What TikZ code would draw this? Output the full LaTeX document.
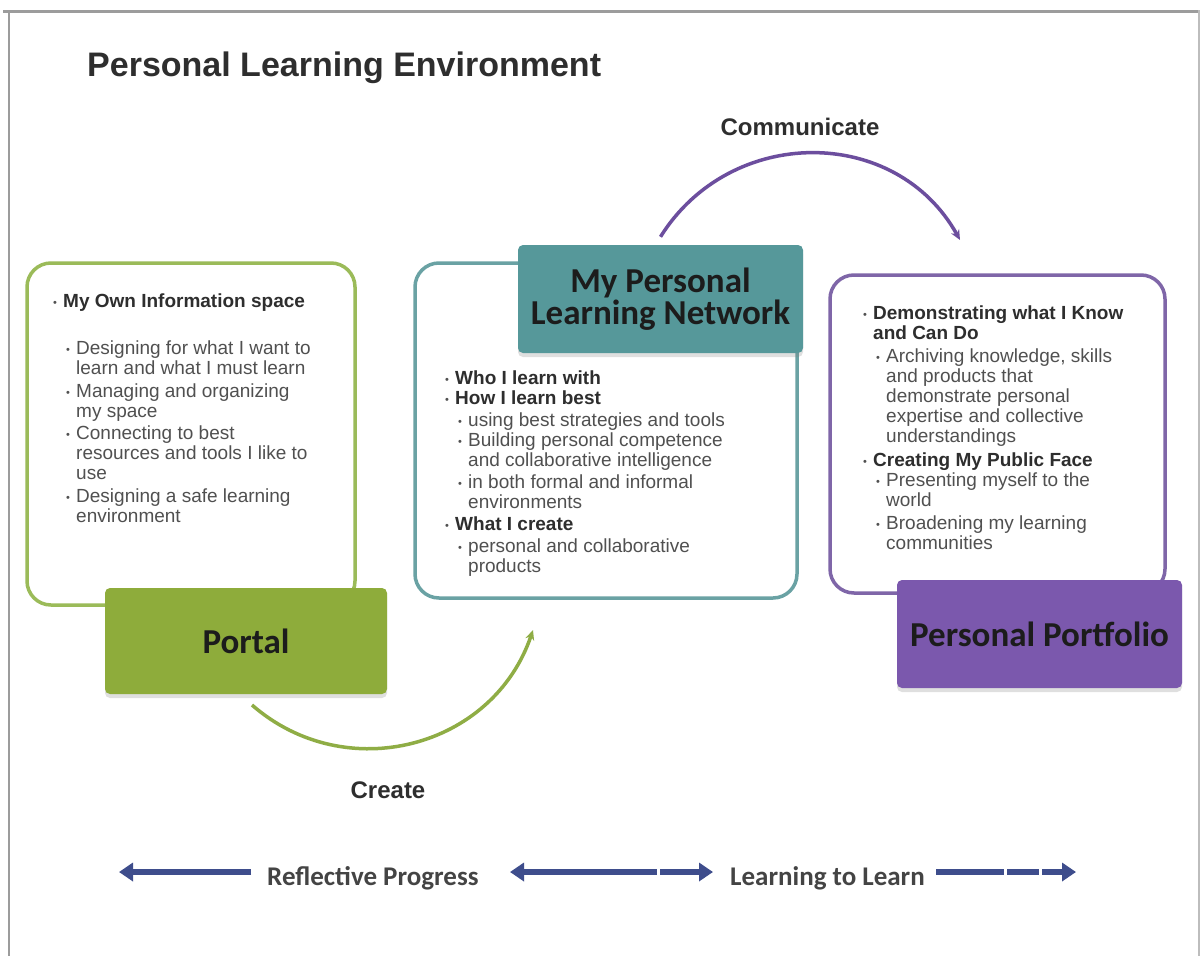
\documentclass[tikz,border=0pt]{standalone}
\usepackage{fontspec}
\setmainfont{Liberation Sans}
\newfontfamily\calfont{Carlito}
\usetikzlibrary{arrows.meta,shadows}

\definecolor{frameGray}{HTML}{9C9C9C}
\definecolor{frameLight}{HTML}{BDBDBD}
\definecolor{greenLine}{HTML}{9BBB59}
\definecolor{greenFill}{HTML}{8EAC3B}
\definecolor{tealLine}{HTML}{6AA2A4}
\definecolor{tealFill}{HTML}{56989A}
\definecolor{purpleLine}{HTML}{7F66A8}
\definecolor{purpleFill}{HTML}{7B58AD}
\definecolor{arcPurple}{HTML}{6C4E9E}
\definecolor{arcGreen}{HTML}{8FAD45}
\definecolor{navyArrow}{HTML}{3E4D8C}
\definecolor{bodyText}{HTML}{505050}
\definecolor{boldText}{HTML}{2E2E2E}
\definecolor{titleText}{HTML}{1C1C1C}
\definecolor{labelText}{HTML}{444444}

% bullet list helpers
\newcommand\bul{{\fontsize{11}{11}\selectfont\raisebox{1.2pt}{•}}}
\newcommand\lvA[1]{\makebox[10pt][l]{\bul}{\bfseries\color{boldText}#1}}
\newcommand\lvAc[1]{\hspace*{10pt}{\bfseries\color{boldText}#1}}
\newcommand\lvB[1]{\hspace*{13pt}\makebox[10pt][l]{\bul}#1}
\newcommand\lvBc[1]{\hspace*{23pt}#1}
\newcommand\tightlines[1]{\lineskiplimit=#1}

\begin{document}
\begin{tikzpicture}[x=1pt,y=-1pt,
  frameline/.style={line width=#1},
  infobox/.style={draw, line width=3.5pt, fill=white, inner sep=0pt, rounded corners=24pt},
  titlebox/.style={inner sep=0pt, rounded corners=5pt,
    drop shadow={opacity=0.25, shadow xshift=0pt, shadow yshift=-4pt},
    align=center, text=titleText,
    font={\calfont\bfseries\fontsize{35}{32}\selectfont\tightlines{-30pt}}},
  bullettext/.style={anchor=north west, inner sep=0pt, align=left, text=bodyText,
    font={\fontsize{19}{20}\selectfont\tightlines{-10pt}}},
  cyclearc/.style={line width=3.5pt, -{Stealth[length=10pt,width=9pt]}},
  flowarrow/.style={draw=navyArrow, line width=6.5pt},
  heading/.style={inner sep=0pt, text=boldText, font={\bfseries\fontsize{24}{28}\selectfont}},
  flowlabel/.style={inner sep=0pt, anchor=base west, text=labelText,
    font={\calfont\bfseries\fontsize{27}{30}\selectfont}}
]
\useasboundingbox (0,0) rectangle (1202,956);
\fill[white] (0,0) rectangle (1202,956);

% page frame
\draw[frameGray, frameline=3pt] (3,11) -- (1200,11);
\draw[frameGray, frameline=2pt] (9,10) -- (9,956);
\draw[frameLight, frameline=2pt] (1199,10) -- (1199,956);

% title
\node[inner sep=0pt, anchor=base west, text=boldText,
      font={\bfseries\fontsize{34}{38}\selectfont}] (title) at (87,76)
  {Personal Learning Environment};

% outline boxes
\node[infobox, draw=greenLine, minimum width=328pt, minimum height=342pt] (portalinfo) at (191,434) {};
\node[infobox, draw=tealLine, minimum width=382pt, minimum height=335pt] (networkinfo) at (606,430.5) {};
\node[infobox, draw=purpleLine, minimum width=335pt, minimum height=318pt] (portfolioinfo) at (997.5,434) {};

% filled title boxes
\node[titlebox, fill=greenFill, minimum width=282pt, minimum height=106pt] (portal) at (246,641) {Portal};
\node[titlebox, fill=tealFill, minimum width=285pt, minimum height=108pt] (network) at (660.5,299)
  {My Personal\\Learning Network};
\node[titlebox, fill=purpleFill, minimum width=285pt, minimum height=108pt] (portfolio) at (1039.5,634)
  {Personal Portfolio};

% box contents
\node[bullettext] (portaltext) at (53,294) {%
  \lvA{My Own Information space}\\[27pt]
  \lvB{Designing for what I want to}\\
  \lvBc{learn and what I must learn}\\[2.5pt]
  \lvB{Managing and organizing}\\
  \lvBc{my space}\\[2.5pt]
  \lvB{Connecting to best}\\
  \lvBc{resources and tools I like to}\\
  \lvBc{use}\\[2.5pt]
  \lvB{Designing a safe learning}\\
  \lvBc{environment}};

\node[bullettext] (networktext) at (445,371) {%
  \lvA{Who I learn with}\\
  \lvA{How I learn best}\\[2pt]
  \lvB{using best strategies and tools}\\
  \lvB{Building personal competence}\\
  \lvBc{and collaborative intelligence}\\[2pt]
  \lvB{in both formal and informal}\\
  \lvBc{environments}\\[2pt]
  \lvA{What I create}\\[2pt]
  \lvB{personal and collaborative}\\
  \lvBc{products}};

\node[bullettext] (portfoliotext) at (863,306) {%
  \lvA{Demonstrating what I Know}\\
  \lvAc{and Can Do}\\[3pt]
  \lvB{Archiving knowledge, skills}\\
  \lvBc{and products that}\\
  \lvBc{demonstrate personal}\\
  \lvBc{expertise and collective}\\
  \lvBc{understandings}\\[3.5pt]
  \lvA{Creating My Public Face}\\
  \lvB{Presenting myself to the}\\
  \lvBc{world}\\[3pt]
  \lvB{Broadening my learning}\\
  \lvBc{communities}};

% cycle arcs
\coordinate (comS) at ([yshift=8pt]network.north);
\coordinate (comE) at (960,240);
\draw[cyclearc, arcPurple] (comS) .. controls +(70,-112) and +(-64,-115) .. (comE);
\node[heading] (communicate) at (800,127) {Communicate};

\coordinate (crS) at (252,705);
\coordinate (crE) at (533,630);
\draw[cyclearc, arcGreen] (crS) .. controls +(94,82) and +(-40,118) .. (crE);
\node[heading] (create) at (388,790) {Create};

% progress arrows
\coordinate (la1) at (251,872);
\coordinate (la2) at (119,872);
\coordinate (ma1) at (510,872);
\coordinate (ma2) at (713,872);
\coordinate (ra1) at (936,872);
\coordinate (ra2) at (1076,872);
\draw[flowarrow, -{Triangle[length=14pt,width=18pt]}] (la1) -- (la2);
\draw[flowarrow, {Triangle[length=14pt,width=18pt]}-{Triangle[length=14pt,width=18pt]},
      dash pattern=on 134pt off 3pt on 200pt] (ma1) -- (ma2);
\draw[flowarrow, -{Triangle[length=14pt,width=18pt]},
      dash pattern=on 68pt off 3pt on 32pt off 3pt on 200pt] (ra1) -- (ra2);
\node[flowlabel] (reflective) at (267,885) {Reflective Progress};
\node[flowlabel] (learntolearn) at (730,885) {Learning to Learn};
\end{tikzpicture}
\end{document}
